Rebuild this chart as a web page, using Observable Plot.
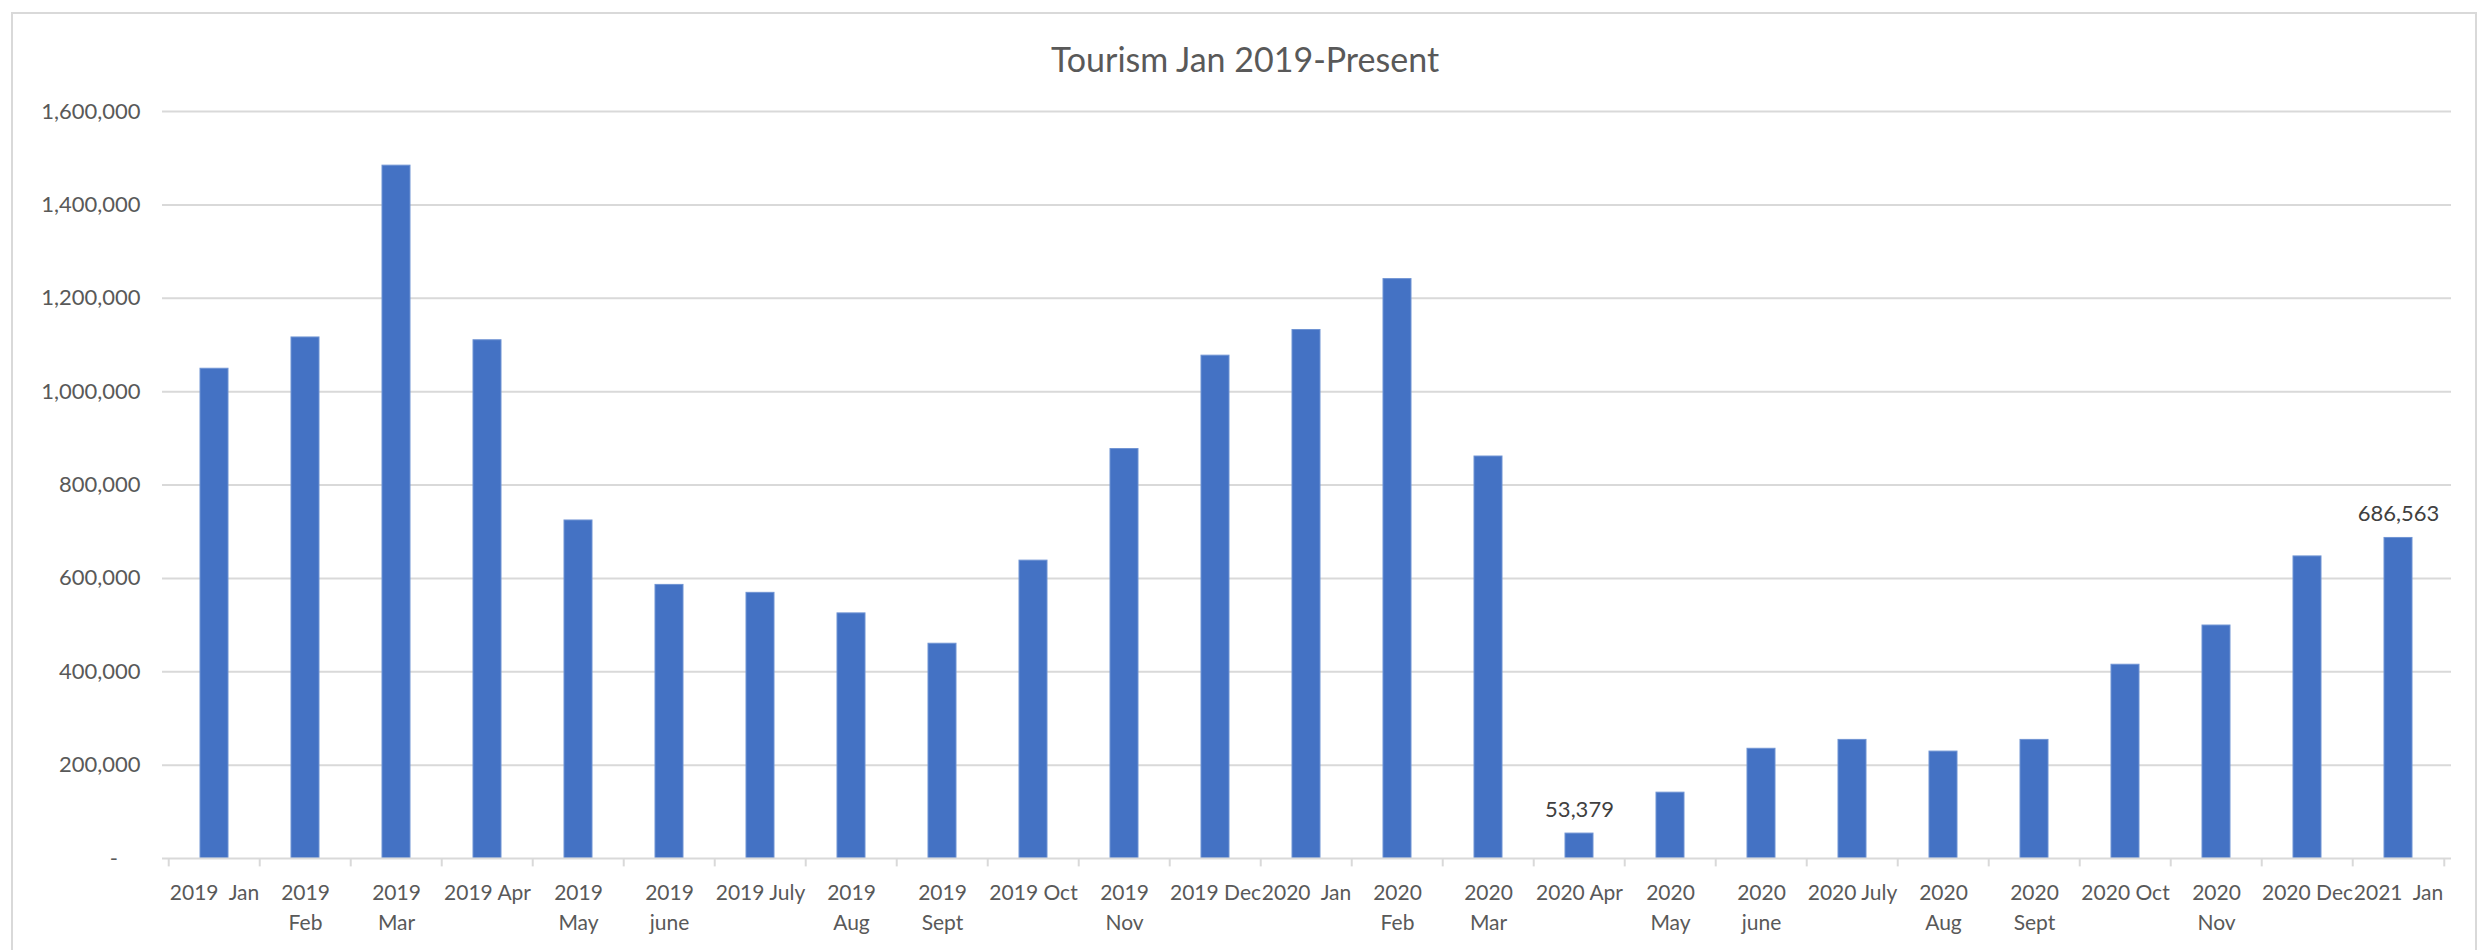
<!DOCTYPE html>
<html>
<head>
<meta charset="utf-8">
<script src="https://cdn.jsdelivr.net/npm/d3@7"></script>
<script src="https://cdn.jsdelivr.net/npm/@observablehq/plot@0.6"></script>
<style>
  html, body { margin: 0; padding: 0; background: #fff; }
  body { width: 2486px; height: 950px; position: relative; overflow: hidden; font-family: Lato, "Open Sans", sans-serif; }
  #frame { position: absolute; left: 11px; top: 12px; width: 2466px; height: 960px; border: 2px solid #d9d9d9; box-sizing: border-box; }
  #title { position: absolute; left: 11px; width: 2468px; top: 37px; text-align: center; font-size: 34px; color: #595959; line-height: 44px; }
  #chart { position: absolute; left: 0; top: 0; }
</style>
</head>
<body>
<div id="frame"></div>
<div id="title">Tourism Jan 2019-Present</div>
<div id="chart"></div>
<script>
// Categories (months)
const months = [
  "2019 Jan","2019 Feb","2019 Mar","2019 Apr","2019 May","2019 June","2019 July","2019 Aug","2019 Sept","2019 Oct","2019 Nov","2019 Dec",
  "2020 Jan","2020 Feb","2020 Mar","2020 Apr","2020 May","2020 June","2020 July","2020 Aug","2020 Sept","2020 Oct","2020 Nov","2020 Dec",
  "2021 Jan"
];
// Tourist counts
const visitors = [
  1049000, 1116000, 1484000, 1110000, 724000, 586000, 569000, 525000, 460000, 638000, 877000, 1077000,
  1132000, 1241000, 861000, 53379, 141000, 235000, 254000, 229000, 254000, 415000, 499000, 647000,
  686563
];
// Axis label lines as shown in the chart
const labelLine1 = [
  "2019\u00a0\u00a0Jan","2019","2019","2019 Apr","2019","2019","2019 July","2019","2019","2019 Oct","2019","2019 Dec",
  "2020\u00a0\u00a0Jan","2020","2020","2020 Apr","2020","2020","2020 July","2020","2020","2020 Oct","2020","2020 Dec",
  "2021\u00a0\u00a0Jan"
];
const labelLine2 = [
  "","Feb","Mar","","May","june","","Aug","Sept","","Nov","",
  "","Feb","Mar","","May","june","","Aug","Sept","","Nov","",
  ""
];
// Values that carry a data label
const labelled = ["2020 Apr", "2021 Jan"];
const yTicks = [0, 200000, 400000, 600000, 800000, 1000000, 1200000, 1400000, 1600000];

const data = months.map((m, i) => ({month: m, value: visitors[i], l1: labelLine1[i], l2: labelLine2[i]}));

const W = 2486, H = 950, ML = 162, MR = 35, MT = 111, MB = 92;
const step = (W - ML - MR) / months.length;
const fmt = d3.format(",");

const chart = Plot.plot({
  width: W,
  height: H,
  marginLeft: ML,
  marginRight: MR,
  marginTop: MT,
  marginBottom: MB,
  style: {fontFamily: "Lato, 'Open Sans', sans-serif", fontSize: "22px", color: "#595959", background: "transparent", overflow: "visible"},
  x: {type: "band", domain: months, paddingInner: 0.69, paddingOuter: 0.345, axis: null},
  y: {domain: [0, 1600000], ticks: yTicks, tickSize: 0, tickPadding: 22,
      tickFormat: d => d === 0 ? "-\u00a0\u00a0\u00a0\u00a0" : fmt(d), label: null},
  marks: [
    Plot.gridY(yTicks.filter(d => d > 0), {stroke: "#d9d9d9", strokeOpacity: 1, strokeWidth: 2}),
    Plot.barY(data, {x: "month", y: "value", fill: "#4472c4", stroke: "#6f93d3", strokeWidth: 1}),
    Plot.ruleY([0], {stroke: "#d9d9d9", strokeWidth: 2}),
    Plot.ruleX(months, {x: d => d, y1: 0, y2: -18000, dx: -step / 2, stroke: "#d9d9d9", strokeWidth: 2}),
    Plot.ruleX([months[months.length - 1]], {x: d => d, y1: 0, y2: -18000, dx: step / 2, stroke: "#d9d9d9", strokeWidth: 2}),
    Plot.text(data, {x: "month", text: "l1", frameAnchor: "bottom", dy: 35, lineAnchor: "middle", fill: "#595959", fontSize: 21}),
    Plot.text(data, {x: "month", text: "l2", frameAnchor: "bottom", dy: 65, lineAnchor: "middle", fill: "#595959", fontSize: 21}),
    Plot.text(data.filter(d => labelled.includes(d.month)), {x: "month", y: "value", text: d => fmt(d.value), dy: -24, lineAnchor: "middle", fill: "#404040", fontSize: 22})
  ]
});
document.getElementById("chart").appendChild(chart);
</script>
</body>
</html>
